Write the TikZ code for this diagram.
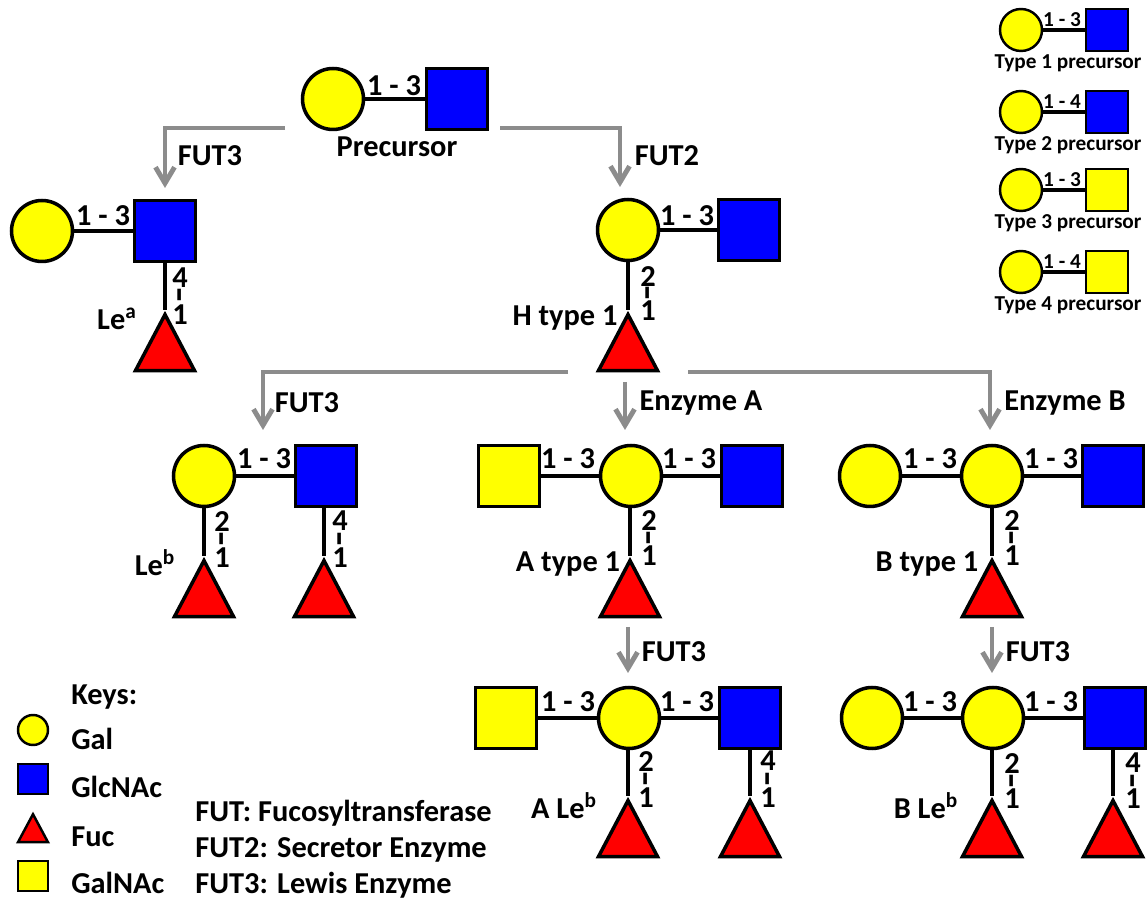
\documentclass[tikz,border=0pt]{standalone}
\usepackage{fontspec}
\setmainfont{Carlito}
\usetikzlibrary{arrows.meta,shapes.geometric}
\definecolor{galyellow}{RGB}{255,255,0}
\definecolor{glcblue}{RGB}{0,0,255}
\definecolor{fucred}{RGB}{255,0,0}
\definecolor{stepgray}{RGB}{140,140,140}
\tikzset{
  gal/.style={circle, draw=black, line width=2pt, fill=galyellow, inner sep=0, minimum size=1.22cm},
  glc/.style={rectangle, draw=black, line width=2pt, fill=glcblue, inner sep=0, minimum size=1.22cm},
  galnac/.style={glc, fill=galyellow},
  fuc/.style={isosceles triangle, isosceles triangle stretches, shape border rotate=90, draw=black, line width=2pt, fill=fucred, inner sep=0, minimum height=1.12cm, minimum width=1.18cm, anchor=apex},
  smallgal/.style={gal, line width=1.4pt, minimum size=0.84cm},
  smallglc/.style={glc, line width=1.4pt, minimum size=0.84cm},
  smallgalnac/.style={galnac, line width=1.4pt, minimum size=0.84cm},
  keygal/.style={gal, line width=1.4pt, minimum size=0.6cm},
  keyglc/.style={glc, line width=1.4pt, minimum size=0.6cm},
  keygalnac/.style={galnac, line width=1.4pt, minimum size=0.6cm},
  keyfuc/.style={fuc, line width=1.4pt, minimum height=0.56cm, minimum width=0.6cm},
  bond/.style={line width=2.8pt},
  smallbond/.style={line width=1.8pt},
  step arrow/.style={draw=stepgray, line width=2.8pt, -{Straight Barb[length=3.2mm, width=3.8mm, line width=2.8pt]}},
  lbl/.style={font=\fontsize{17.3}{18}\selectfont\bfseries, inner sep=0, yshift=-0.6pt},
  smalllbl/.style={font=\fontsize{12.1}{13}\selectfont\bfseries, inner sep=0, yshift=-0.6pt},
  linkdash/.style={font=\fontsize{28}{28}\selectfont, inner sep=0, xshift=3pt, yshift=-0.8pt, rotate=90}
}
\begin{document}
\begin{tikzpicture}[x=0.02cm, y=-0.02cm]
  \useasboundingbox (0,0) rectangle (1147,901);

  % Precursor
  \node[gal] (preA) at (333,99) {};
  \node[glc] (preB) at (457,99) {};
  \draw[bond] (preA) -- (preB);
  \node[lbl] (preL) at (394,85) {1 - 3};
  \node[lbl] (preT) at (397,146) {Precursor};

  % Arrows from precursor
  \coordinate (a1s) at (285,128);
  \coordinate (a1k) at (165,128);
  \coordinate (a1e) at (165,188);
  \draw[step arrow] (a1s) -- (a1k) -- (a1e);
  \node[lbl] (a1t) at (210,155) {FUT3};
  \coordinate (a2s) at (500,128);
  \coordinate (a2k) at (620,128);
  \coordinate (a2e) at (620,187);
  \draw[step arrow] (a2s) -- (a2k) -- (a2e);
  \node[lbl] (a2t) at (667,155) {FUT2};

  % Le a
  \node[gal] (leaA) at (42,231) {};
  \node[glc] (leaB) at (165,231) {};
  \node[fuc] (leaC) at (165,310) {};
  \draw[bond] (leaA) -- (leaB);
  \draw[bond] (leaB) -- (leaC.apex);
  \node[lbl] (leaL) at (103,215) {1 - 3};
  \node[lbl] (leaM) at (180,277) {4};
  \node[linkdash] (leaN) at (180,294) {-};
  \node[lbl] (leaO) at (180,314) {1};
  \node[lbl] (leaT) at (117,318) {Le\textsuperscript{a}};

  % H type 1
  \node[gal] (hA) at (628,230) {};
  \node[glc] (hB) at (749,230) {};
  \node[fuc] (hC) at (628,310) {};
  \draw[bond] (hA) -- (hB);
  \draw[bond] (hA) -- (hC.apex);
  \node[lbl] (hL) at (687,215) {1 - 3};
  \node[lbl] (hM) at (648,275) {2};
  \node[linkdash] (hN) at (648,292) {-};
  \node[lbl] (hO) at (648,310) {1};
  \node[lbl] (hT) at (565,317) {H type 1};

  % Arrows from H type 1
  \coordinate (a3s) at (568,372);
  \coordinate (a3k) at (263,372);
  \coordinate (a3e) at (263,430);
  \draw[step arrow] (a3s) -- (a3k) -- (a3e);
  \node[lbl] (a3t) at (307,402) {FUT3};
  \coordinate (a4s) at (625,382);
  \coordinate (a4e) at (625,430);
  \draw[step arrow] (a4s) -- (a4e);
  \node[lbl] (a4t) at (701,402) {Enzyme A};
  \coordinate (a5s) at (688,372);
  \coordinate (a5k) at (990,372);
  \coordinate (a5e) at (990,430);
  \draw[step arrow] (a5s) -- (a5k) -- (a5e);
  \node[lbl] (a5t) at (1065,402) {Enzyme B};

  % Le b
  \node[gal] (lebA) at (204,476) {};
  \node[glc] (lebB) at (326,476) {};
  \node[fuc] (lebC) at (204,556) {};
  \node[fuc] (lebD) at (324,556) {};
  \draw[bond] (lebA) -- (lebB);
  \draw[bond] (lebA) -- (lebC.apex);
  \draw[bond] (lebB.south -| lebD.apex) -- (lebD.apex);
  \node[lbl] (lebL) at (264,458) {1 - 3};
  \node[lbl] (lebM) at (222,520) {2};
  \node[linkdash] (lebN) at (222,538) {-};
  \node[lbl] (lebO) at (222,557) {1};
  \node[lbl] (lebP) at (340,520) {4};
  \node[linkdash] (lebQ) at (340,538) {-};
  \node[lbl] (lebR) at (340,557) {1};
  \node[lbl] (lebT) at (155,562) {Le\textsuperscript{b}};

  % A type 1
  \node[galnac] (atA) at (509,476) {};
  \node[gal] (atB) at (631,476) {};
  \node[glc] (atC) at (752,476) {};
  \node[fuc] (atD) at (630,556) {};
  \draw[bond] (atA) -- (atB);
  \draw[bond] (atB) -- (atC);
  \draw[bond] (atB.south -| atD.apex) -- (atD.apex);
  \node[lbl] (atL) at (568,458) {1 - 3};
  \node[lbl] (atM) at (689,458) {1 - 3};
  \node[lbl] (atN) at (649,519) {2};
  \node[linkdash] (atO) at (649,537) {-};
  \node[lbl] (atP) at (649,555) {1};
  \node[lbl] (atT) at (568,563) {A type 1};

  % B type 1
  \node[gal] (btA) at (870,476) {};
  \node[gal] (btB) at (992,476) {};
  \node[glc] (btC) at (1113,476) {};
  \node[fuc] (btD) at (992,556) {};
  \draw[bond] (btA) -- (btB);
  \draw[bond] (btB) -- (btC);
  \draw[bond] (btB) -- (btD.apex);
  \node[lbl] (btL) at (930,458) {1 - 3};
  \node[lbl] (btM) at (1051,458) {1 - 3};
  \node[lbl] (btN) at (1012,519) {2};
  \node[linkdash] (btO) at (1012,537) {-};
  \node[lbl] (btP) at (1012,555) {1};
  \node[lbl] (btT) at (927,563) {B type 1};

  % Arrows to the bottom row
  \coordinate (a6s) at (628,627);
  \coordinate (a6e) at (628,673);
  \draw[step arrow] (a6s) -- (a6e);
  \node[lbl] (a6t) at (674,651) {FUT3};
  \coordinate (a7s) at (992,627);
  \coordinate (a7e) at (992,673);
  \draw[step arrow] (a7s) -- (a7e);
  \node[lbl] (a7t) at (1038,651) {FUT3};

  % A Le b
  \node[galnac] (alA) at (506,718) {};
  \node[gal] (alB) at (629,718) {};
  \node[glc] (alC) at (750,718) {};
  \node[fuc] (alD) at (628,796) {};
  \node[fuc] (alE) at (750,796) {};
  \draw[bond] (alA) -- (alB);
  \draw[bond] (alB) -- (alC);
  \draw[bond] (alB.south -| alD.apex) -- (alD.apex);
  \draw[bond] (alC) -- (alE.apex);
  \node[lbl] (alL) at (568,701) {1 - 3};
  \node[lbl] (alM) at (687,701) {1 - 3};
  \node[lbl] (alN) at (646,760) {2};
  \node[linkdash] (alO) at (646,778) {-};
  \node[lbl] (alP) at (646,797) {1};
  \node[lbl] (alQ) at (768,760) {4};
  \node[linkdash] (alR) at (768,778) {-};
  \node[lbl] (alS) at (768,797) {1};
  \node[lbl] (alT) at (564,805) {A Le\textsuperscript{b}};

  % B Le b
  \node[gal] (blA) at (872,718) {};
  \node[gal] (blB) at (993,718) {};
  \node[glc] (blC) at (1115,718) {};
  \node[fuc] (blD) at (992,796) {};
  \node[fuc] (blE) at (1113,796) {};
  \draw[bond] (blA) -- (blB);
  \draw[bond] (blB) -- (blC);
  \draw[bond] (blB.south -| blD.apex) -- (blD.apex);
  \draw[bond] (blC.south -| blE.apex) -- (blE.apex);
  \node[lbl] (blL) at (930,701) {1 - 3};
  \node[lbl] (blM) at (1051,701) {1 - 3};
  \node[lbl] (blN) at (1012,762) {2};
  \node[linkdash] (blO) at (1012,780) {-};
  \node[lbl] (blP) at (1012,798) {1};
  \node[lbl] (blQ) at (1133,762) {4};
  \node[linkdash] (blR) at (1133,780) {-};
  \node[lbl] (blS) at (1133,798) {1};
  \node[lbl] (blT) at (926,805) {B Le\textsuperscript{b}};

  % Precursor types
  \node[smallgal] (t1A) at (1021,30) {};
  \node[smallglc] (t1B) at (1107,30) {};
  \draw[smallbond] (t1A) -- (t1B);
  \node[smalllbl] (t1L) at (1062,19) {1 - 3};
  \node[smalllbl] (t1T) at (1068,62) {Type 1 precursor};
  \node[smallgal] (t2A) at (1021,112) {};
  \node[smallglc] (t2B) at (1107,112) {};
  \draw[smallbond] (t2A) -- (t2B);
  \node[smalllbl] (t2L) at (1062,101) {1 - 4};
  \node[smalllbl] (t2T) at (1068,144) {Type 2 precursor};
  \node[smallgal] (t3A) at (1021,190) {};
  \node[smallgalnac] (t3B) at (1107,190) {};
  \draw[smallbond] (t3A) -- (t3B);
  \node[smalllbl] (t3L) at (1062,179) {1 - 3};
  \node[smalllbl] (t3T) at (1068,222) {Type 3 precursor};
  \node[smallgal] (t4A) at (1021,272) {};
  \node[smallgalnac] (t4B) at (1107,272) {};
  \draw[smallbond] (t4A) -- (t4B);
  \node[smalllbl] (t4L) at (1062,261) {1 - 4};
  \node[smalllbl] (t4T) at (1068,304) {Type 4 precursor};

  % Keys
  \node[lbl, anchor=west] (keyT) at (71,696) {Keys:};
  \node[keygal] (keyA) at (33,730) {};
  \node[lbl, anchor=west] (keyB) at (71,738) {Gal};
  \node[keyglc] (keyC) at (33,779) {};
  \node[lbl, anchor=west] (keyD) at (71,786) {GlcNAc};
  \node[keyfuc] (keyE) at (33,811) {};
  \node[lbl, anchor=west] (keyF) at (71,836) {Fuc};
  \node[keygalnac] (keyG) at (33,876) {};
  \node[lbl, anchor=west] (keyH) at (71,882) {GalNAc};

  % Enzymes
  \node[lbl, anchor=west] (futA) at (195,812) {FUT: Fucosyltransferase};
  \node[lbl, anchor=west] (futB) at (195,849) {FUT2: Secretor Enzyme};
  \node[lbl, anchor=west] (futC) at (195,884) {FUT3: Lewis Enzyme};
\end{tikzpicture}
\end{document}
